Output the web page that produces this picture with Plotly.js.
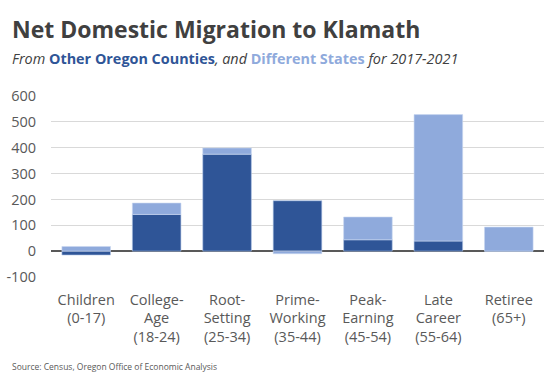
<!DOCTYPE html>
<html><head><meta charset="utf-8">
<script src="https://cdn.plot.ly/plotly-3.0.1.min.js"></script>
<style>html,body{margin:0;padding:0;background:#fff}#chart{width:560px;height:376px}</style>
</head><body><div id="chart"></div>
<script>
const categories = ["Children<br>(0-17)", "College-<br>Age<br>(18-24)", "Root-<br>Setting<br>(25-34)", "Prime-<br>Working<br>(35-44)", "Peak-<br>Earning<br>(45-54)", "Late<br>Career<br>(55-64)", "Retiree<br>(65+)"];
const otherOregon = [-15, 142, 375, 195, 44, 39, 0];
const differentStates = [18, 44, 24, -10, 88, 489, 93];
const yTicks = [-100, 0, 100, 200, 300, 400, 500, 600];

const FONT = "'Open Sans', 'Noto Sans', sans-serif";
const dark = "#2F5597", light = "#8FAADC";

const traces = [
  {type: "bar", x: categories, y: otherOregon, name: "Other Oregon Counties",
   marker: {color: dark, line: {color: "#b4c7e7", width: 0.6}}},
  {type: "bar", x: categories, y: differentStates, name: "Different States",
   marker: {color: light, line: {color: "#c9d7f0", width: 0.6}}}
];

const PX = 1/181;
const layout = {
  width: 560, height: 376,
  margin: {l: 51, r: 16, t: 96, b: 99},
  barmode: "relative", bargap: 0.31,
  showlegend: false,
  paper_bgcolor: "#fff", plot_bgcolor: "#fff",
  font: {family: FONT, color: "#595959"},
  xaxis: {tickfont: {size: 14.5, color: "#595959", family: FONT}, showgrid: false, showline: false,
          ticks: "", ticklabelstandoff: 12, zeroline: false},
  yaxis: {range: [-100, 600], tickvals: yTicks, ticktext: yTicks.map(String),
          tickfont: {size: 14.5, color: "#595959", family: FONT}, gridcolor: "#D9D9D9", gridwidth: 1,
          zeroline: true, zerolinecolor: "#595959", zerolinewidth: 2, ticklabelstandoff: 14,
          fixedrange: true},
  annotations: [
    {xref: "paper", yref: "paper", x: (10-51)/493, y: 1 + (96-29)*PX, xanchor: "left", yanchor: "middle",
     showarrow: false, align: "left",
     text: "<b>Net Domestic Migration to Klamath</b>", font: {size: 23, color: "#404040", family: FONT}},
    {xref: "paper", yref: "paper", x: (10-51)/493, y: 1 + (96-59)*PX, xanchor: "left", yanchor: "middle",
     showarrow: false, align: "left",
     text: "<i>From </i><b><span style='color:" + dark + "'>Other Oregon Counties</span></b><i>, and </i><b><span style='color:" + light + "'>Different States</span></b><i> for 2017-2021</i>",
     font: {size: 14.4, color: "#404040", family: FONT}},
    {xref: "paper", yref: "paper", x: (10-51)/493, y: -(367-277)*PX, xanchor: "left", yanchor: "middle",
     showarrow: false, align: "left",
     text: "Source: Census, Oregon Office of Economic Analysis", font: {size: 8.5, color: "#595959", family: FONT}}
  ]
};
Plotly.newPlot("chart", traces, layout, {displayModeBar: false, staticPlot: true});
</script></body></html>
